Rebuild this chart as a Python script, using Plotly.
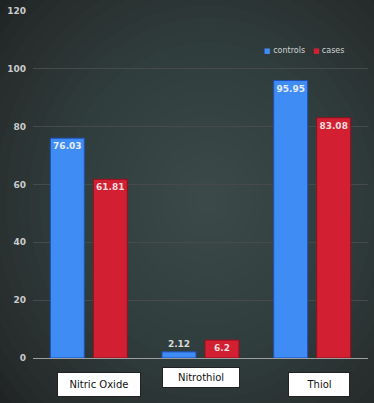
import plotly.graph_objects as go

categories = ["Nitric Oxide", "Nitrothiol", "Thiol"]
controls = [76.03, 2.12, 95.95]
cases = [61.81, 6.2, 83.08]
series_names = ["controls", "cases"]
series_colors = ["#3f8cf5", "#d21f32"]
y_ticks = [0, 20, 40, 60, 80, 100, 120]

fig = go.Figure()
for vals, name, col, edge, tcol in [
    (controls, series_names[0], series_colors[0], "#1f4fb8", "#e6ecf2"),
    (cases, series_names[1], series_colors[1], "#8e1220", "#f0dede"),
]:
    fig.add_trace(go.Bar(
        x=categories, y=vals, name=name,
        marker=dict(color=col, line=dict(color=edge, width=1)),
        text=[f"{v:g}" for v in vals], textposition="auto", textangle=0,
        insidetextanchor="end", constraintext="none",
        textfont=dict(family="DejaVu Sans", size=9, color=tcol, weight=600),
        outsidetextfont=dict(family="DejaVu Sans", size=9, color="#d8d8d8", weight=600),
        cliponaxis=False,
    ))

# background radial glow
shapes = []
n = 24
for i in range(n):
    f = 1 - i / n
    shapes.append(dict(
        type="circle", xref="paper", yref="paper", layer="below",
        x0=0.52 - 0.8 * f, x1=0.52 + 0.8 * f,
        y0=0.45 - 0.85 * f, y1=0.45 + 0.85 * f,
        fillcolor="rgba(85,98,96,0.05)", line=dict(width=0),
    ))

annotations = []
offsets = [0.095, 0.0, 0.065]
ypos = [-0.075, -0.057, -0.075]
for i, c in enumerate(categories):
    annotations.append(dict(
        x=i + offsets[i], xref="x", y=ypos[i], yref="paper",
        text=c, showarrow=False, yanchor="middle", xanchor="center",
        bgcolor="#ffffff", bordercolor="#222222", borderwidth=1,
        borderpad=6 if i != 1 else 4,
        width=[70, 68, 48][i],
        font=dict(family="DejaVu Sans", size=10, color="#111111"),
    ))

legend_text = (f"<span style='color:{series_colors[0]};font-size:7px'>■</span> {series_names[0]}"
               f"&nbsp;&nbsp; <span style='color:{series_colors[1]};font-size:7px'>■</span> {series_names[1]}")
annotations.append(dict(
    x=0.935, xref="paper", y=0.885, yref="paper", text=legend_text, showarrow=False,
    xanchor="right", yanchor="middle",
    font=dict(family="DejaVu Sans", size=8, color="#cfd4d4"),
))

fig.update_layout(
    width=374, height=403,
    margin=dict(l=33, r=6, t=9, b=45),
    paper_bgcolor="#202323", plot_bgcolor="rgba(0,0,0,0)",
    barmode="group", bargap=0.23, bargroupgap=0.21,
    shapes=shapes, annotations=annotations,
    showlegend=False,
    font=dict(family="DejaVu Sans"),
)
fig.update_yaxes(range=[0, 120], tickvals=y_ticks, showgrid=True,
                 gridcolor="#454b4b", gridwidth=1, zeroline=True,
                 zerolinecolor="#9aa0a0", zerolinewidth=1,
                 tickfont=dict(family="DejaVu Sans", size=9, color="#c8cccc", weight="bold"),
                 ticks="", ticklabelstandoff=6)
fig.update_xaxes(showticklabels=False, showgrid=False, showline=False, ticks="")

fig.write_html("out.html", config={"displayModeBar": False},
               post_script="document.body.style.margin='0';")
